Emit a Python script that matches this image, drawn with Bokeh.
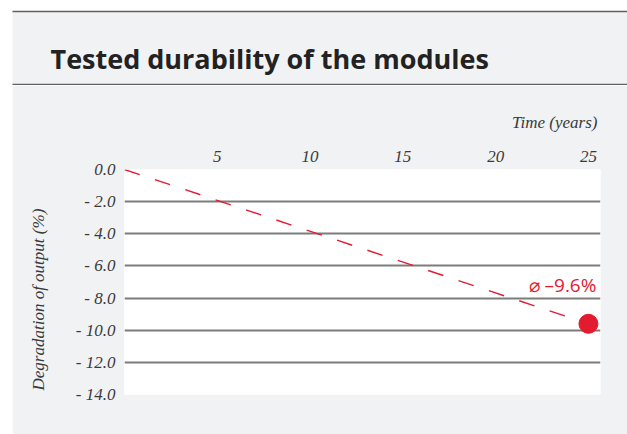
from bokeh.plotting import figure
from bokeh.layouts import column
from bokeh.models import FixedTicker, Label, Grid, Range1d, Title
from bokeh.embed import file_html
from bokeh.resources import INLINE

# ---- data ----
years = [0, 25]
degradation = [0.0, -9.6]
end_year = [25]
end_value = [-9.6]
x_ticks = [5, 10, 15, 20, 25]
y_ticks = [0, -2, -4, -6, -8, -10, -12, -14]
y_tick_labels = ["0.0", "- 2.0", "- 4.0", "- 6.0", "- 8.0", "- 10.0", "- 12.0", "- 14.0"]
title_text = "Tested durability of the modules"
x_label = "Time (years)"
y_label = "Degradation of output (%)"
note_text = "\u2300 \u20139.6%"

RED = "#e31b2f"
BG = "#f1f2f4"
SERIF = "Liberation Serif"
TXT = "#3a3a3a"
W = 627
HH = 85

# ---- header band (title card) ----
h = figure(width=W, height=HH, output_backend="svg", toolbar_location=None,
           x_range=Range1d(0, W), y_range=Range1d(HH, 0),
           x_axis_location=None, y_axis_location=None,
           min_border=0, outline_line_color=None,
           background_fill_color="white", border_fill_color="white")
h.frame_align = False
h.xgrid.visible = False
h.ygrid.visible = False
h.quad(left=[12], right=[W], top=[11], bottom=[HH], fill_color=BG, line_color=None)
h.segment(x0=[12, 12], y0=[11, 84], x1=[W, W], y1=[11, 84],
          line_color="#606060", line_width=1.5)
h.text(x=[50], y=[58], text=[title_text], text_font={"value": "Open Sans"},
       text_font_style="bold", text_font_size="27px", text_color="#222222",
       text_baseline="alphabetic")

# ---- chart ----
p = figure(width=W - 12, height=434 - HH, output_backend="svg", toolbar_location=None,
           x_range=Range1d(0, 25.65), y_range=Range1d(-14, 0),
           x_axis_location="above",
           min_border_left=111, min_border_right=27,
           min_border_top=84, min_border_bottom=40,
           background_fill_color="white", border_fill_color=BG,
           outline_line_color=None)
p.frame_align = False
p.margin = (0, 0, 0, 12)

xa = p.xaxis[0]
xa.ticker = FixedTicker(ticks=x_ticks)
xa.axis_line_color = None
xa.major_tick_line_color = None
xa.minor_tick_line_color = None
xa.major_label_standoff = 2
xa.major_label_text_font = SERIF
xa.major_label_text_font_style = "italic"
xa.major_label_text_font_size = "17px"
xa.major_label_text_color = TXT

ya = p.yaxis[0]
ya.ticker = FixedTicker(ticks=y_ticks)
ya.major_label_overrides = {t: lab for t, lab in zip(y_ticks, y_tick_labels)}
ya.axis_line_color = None
ya.major_tick_line_color = None
ya.minor_tick_line_color = None
ya.major_label_standoff = 3
ya.major_label_text_font = SERIF
ya.major_label_text_font_style = "italic"
ya.major_label_text_font_size = "17px"
ya.major_label_text_color = TXT
# tiny invisible spacer label to push the side title outwards
ya.axis_label = " "
ya.axis_label_text_font_size = "1px"
ya.axis_label_standoff = 7

p.add_layout(Title(text=x_label, align="right", offset=3, standoff=31,
                   text_font=SERIF, text_font_style="italic", text_font_size="17px",
                   text_color=TXT), "above")
p.add_layout(Title(text=y_label, align="left", offset=4, standoff=28,
                   text_font=SERIF, text_font_style="italic", text_font_size="17px",
                   text_color=TXT), "left")

p.xgrid.grid_line_color = None
p.ygrid.ticker = FixedTicker(ticks=y_ticks[1:])
p.ygrid.grid_line_color = "#7c7c7c"
p.ygrid.grid_line_width = 2
top_grid = Grid(dimension=1, ticker=FixedTicker(ticks=y_ticks[:1]),
                grid_line_color="#b4b4b4", grid_line_width=2)
p.add_layout(top_grid)

p.line(years, degradation, line_color=RED, line_width=1.4, line_dash="16 16")
p.scatter(end_year, end_value, size=19, color=RED)

p.add_layout(Label(x=end_year[0], y=end_value[0], x_offset=8, y_offset=39, text=note_text,
                   text_font="Open Sans", text_font_size="19px",
                   text_color=RED, text_align="right", text_baseline="middle"))

layout = column(h, p, spacing=0)
open("out.html", "w").write(file_html(layout, INLINE))
